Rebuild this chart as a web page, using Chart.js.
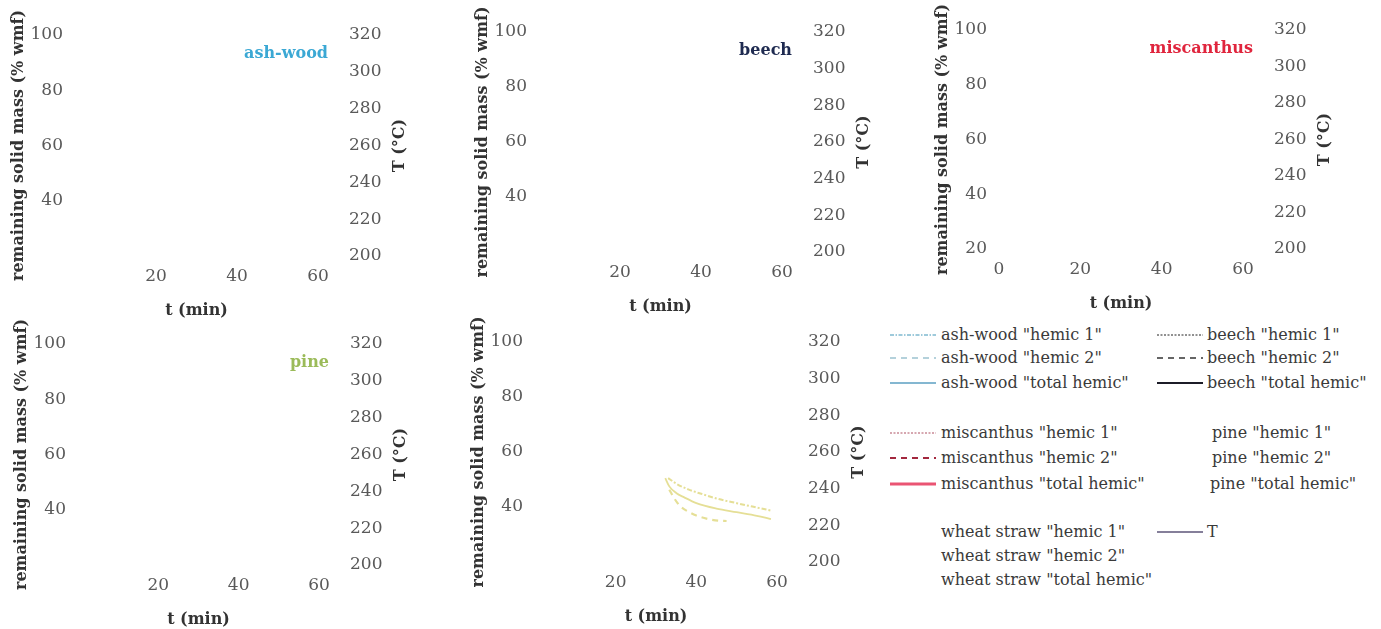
<!DOCTYPE html>
<html>
<head>
<meta charset="utf-8">
<script src="https://cdn.jsdelivr.net/npm/chart.js@4.4.0/dist/chart.umd.min.js"></script>
<style>
  html, body { margin: 0; padding: 0; background: #fff; overflow: hidden; }
  body { width: 1381px; height: 629px; position: relative; font-family: 'DejaVu Serif', serif; }
  .panel { position: absolute; }
  .legend-item { position: absolute; height: 20px; font-size: 16px; color: #3a3a3a; white-space: nowrap; line-height: 20px; }
  .legend-item svg { position: absolute; top: 0; }
  .legend-item span { position: absolute; top: 0; }
</style>
</head>
<body>

<script>
// axis ticks
const timeTicks = [0, 20, 40, 60];
const massTicks = [20, 40, 60, 80, 100];
const tempTicks = [200, 220, 240, 260, 280, 300, 320];

// panels (only the wheat straw curves are visible in the picture)
const panelNames = ['ash-wood', 'beech', 'miscanthus', 'pine', ''];
const panelColors = ['#3ba8d4', '#1e2a50', '#e0253d', '#9bbb59', '#e5df96'];

// wheat straw, remaining solid mass (% wmf) against t (min)
const wheatHemic1Time = [33, 35, 38, 41, 45, 50, 55, 58.5];
const wheatHemic1 = [50.5, 48.5, 46.4, 44.9, 43.1, 41.4, 39.8, 38.7];
const wheatTotalTime = [32.3, 33.3, 35, 37, 40, 45, 50, 55, 58.5];
const wheatTotal = [50.5, 47.5, 45.1, 43.5, 41.4, 39.4, 38.1, 36.8, 35.6];
const wheatHemic2Time = [33.3, 34.5, 36, 38, 40, 43, 45.5, 47.5];
const wheatHemic2 = [46.3, 43.2, 40.3, 38.3, 36.9, 35.6, 35.0, 34.9];

const legendLabels = [
  'ash-wood "hemic 1"', 'ash-wood "hemic 2"', 'ash-wood "total hemic"',
  'beech "hemic 1"', 'beech "hemic 2"', 'beech "total hemic"',
  'miscanthus "hemic 1"', 'miscanthus "hemic 2"', 'miscanthus "total hemic"',
  'pine "hemic 1"', 'pine "hemic 2"', 'pine "total hemic"',
  'wheat straw "hemic 1"', 'wheat straw "hemic 2"', 'wheat straw "total hemic"',
  'T'
];

// layout of the five panels: chart area edges in page pixels
const panelBoxes = [
  { left: 75, right: 318, top: 35, bottom: 256, low: false },
  { left: 539, right: 782, top: 32, bottom: 252, low: false },
  { left: 999, right: 1243, top: 30, bottom: 249, low: true },
  { left: 78, right: 319, top: 344, bottom: 565, low: false },
  { left: 535, right: 777, top: 342, bottom: 562, low: false }
];

const tickFont = { family: 'DejaVu Serif', size: 17 };
const titleFont = { family: 'DejaVu Serif', size: 16, weight: 'bold' };
const tickColor = '#595959';
const titleColor = '#333333';
const LEFT_W = 69, RIGHT_W = 94, BOTTOM_H = 66, TOP_PAD = 43;

// panel name in the top right corner and the right axis title (read upwards)
const panelText = {
  id: 'panelText',
  afterDraw(chart, args, opts) {
    const { ctx, chartArea } = chart;
    ctx.save();
    ctx.font = 'bold 16px "DejaVu Serif"';
    if (opts.text) {
      ctx.fillStyle = opts.color;
      ctx.textAlign = 'right';
      ctx.textBaseline = 'middle';
      ctx.fillText(opts.text, chartArea.right + 10, chartArea.top + 19);
    }
    ctx.translate(chartArea.right + 82, (chartArea.top + chartArea.bottom) / 2);
    ctx.rotate(-Math.PI / 2);
    ctx.fillStyle = titleColor;
    ctx.textAlign = 'center';
    ctx.textBaseline = 'middle';
    ctx.fillText('T (°C)', 0, 0);
    ctx.restore();
  }
};

function pairs(xs, ys) {
  return xs.map((x, i) => ({ x: x, y: ys[i] }));
}

function wheatDatasets() {
  const c = panelColors[4];
  const base = { borderColor: c, pointRadius: 0, fill: false, cubicInterpolationMode: 'monotone', yAxisID: 'y' };
  return [
    Object.assign({}, base, { label: legendLabels[12], data: pairs(wheatHemic1Time, wheatHemic1), borderWidth: 2, borderDash: [5, 2, 2, 2] }),
    Object.assign({}, base, { label: legendLabels[13], data: pairs(wheatHemic2Time, wheatHemic2), borderWidth: 2.2, borderDash: [6, 5] }),
    Object.assign({}, base, { label: legendLabels[14], data: pairs(wheatTotalTime, wheatTotal), borderWidth: 1.8 })
  ];
}

function makeOptions(i) {
  const p = panelBoxes[i];
  const common = {
    grid: { display: false, drawTicks: false },
    border: { display: false }
  };
  return {
    responsive: false,
    animation: false,
    layout: { padding: { top: TOP_PAD, left: 0, right: 0, bottom: 0 } },
    plugins: {
      legend: { display: false },
      tooltip: { enabled: false },
      panelText: { text: panelNames[i], color: panelColors[i] }
    },
    scales: {
      x: Object.assign({}, common, {
        type: 'linear', min: timeTicks[0], max: timeTicks[timeTicks.length - 1],
        afterBuildTicks: s => { s.ticks = timeTicks.map(v => ({ value: v })); },
        ticks: { padding: 10, font: tickFont, color: tickColor, maxRotation: 0,
          callback: v => (v === 0 && !p.low) ? '' : v },
        title: { display: true, text: 't (min)', font: titleFont, color: titleColor, padding: { top: 0, bottom: 2 } },
        afterFit: s => { s.height = BOTTOM_H; }
      }),
      y: Object.assign({}, common, {
        position: 'left', min: massTicks[0], max: massTicks[massTicks.length - 1],
        afterBuildTicks: s => { s.ticks = massTicks.map(v => ({ value: v })); },
        ticks: { padding: 12, font: tickFont, color: tickColor,
          callback: v => (v === 20 && !p.low) ? '' : v },
        title: { display: true, text: 'remaining solid mass (% wmf)', font: titleFont, color: titleColor, padding: { top: 3, bottom: 3 } },
        afterFit: s => { s.width = LEFT_W; }
      }),
      y2: Object.assign({}, common, {
        position: 'right', min: tempTicks[0], max: tempTicks[tempTicks.length - 1],
        afterBuildTicks: s => { s.ticks = tempTicks.map(v => ({ value: v })); },
        ticks: { padding: 31, font: tickFont, color: tickColor },
        title: { display: false },
        afterFit: s => { s.width = RIGHT_W; }
      })
    }
  };
}

panelBoxes.forEach((p, i) => {
  const w = LEFT_W + (p.right - p.left) + RIGHT_W;
  const h = TOP_PAD + (p.bottom - p.top) + BOTTOM_H;
  const div = document.createElement('div');
  div.className = 'panel';
  div.style.left = (p.left - LEFT_W) + 'px';
  div.style.top = (p.top - TOP_PAD) + 'px';
  const canvas = document.createElement('canvas');
  canvas.width = w;
  canvas.height = h;
  canvas.style.width = w + 'px';
  canvas.style.height = h + 'px';
  div.appendChild(canvas);
  document.body.appendChild(div);

  new Chart(canvas.getContext('2d'), {
    type: 'line',
    data: { datasets: i === 4 ? wheatDatasets() : [] },
    options: makeOptions(i),
    plugins: [panelText]
  });
});

// legend: two columns of line samples and labels
const legendRowsY = [335, 358, 383, 433, 458, 484, 532, 556, 580];
const legendEntries = [
  { label: 0, col: 0, row: 0, color: '#7fb9cf', width: 1.5, dash: '4 1.5 1.5 1.5' },
  { label: 1, col: 0, row: 1, color: '#9cc2cf', width: 1.5, dash: '6 5' },
  { label: 2, col: 0, row: 2, color: '#5b9fc2', width: 1.5, dash: '' },
  { label: 3, col: 1, row: 0, color: '#222222', width: 1, dash: '2 1.5' },
  { label: 4, col: 1, row: 1, color: '#333333', width: 1.3, dash: '6 5' },
  { label: 5, col: 1, row: 2, color: '#1c1c28', width: 2.2, dash: '' },
  { label: 6, col: 0, row: 3, color: '#c98a96', width: 1.3, dash: '2 1.5' },
  { label: 7, col: 0, row: 4, color: '#a3283e', width: 1.8, dash: '6 5' },
  { label: 8, col: 0, row: 5, color: '#ea5473', width: 3.2, dash: '' },
  { label: 9, col: 1, row: 3, color: null, indent: 5 },
  { label: 10, col: 1, row: 4, color: null, indent: 5 },
  { label: 11, col: 1, row: 5, color: null, indent: 3 },
  { label: 12, col: 0, row: 6, color: null },
  { label: 13, col: 0, row: 7, color: null },
  { label: 14, col: 0, row: 8, color: null },
  { label: 15, col: 1, row: 6, color: '#5c5478', width: 1.6, dash: '' }
];
const legendCols = [{ sample: 890, text: 941 }, { sample: 1157, text: 1207 }];

legendEntries.forEach(e => {
  const col = legendCols[e.col];
  const item = document.createElement('div');
  item.className = 'legend-item';
  item.style.left = col.sample + 'px';
  item.style.top = (legendRowsY[e.row] - 10) + 'px';
  let html = '';
  if (e.color) {
    html += '<svg width="46" height="20"><line x1="0" y1="10" x2="46" y2="10" stroke="' + e.color +
      '" stroke-width="' + e.width + '"' + (e.dash ? ' stroke-dasharray="' + e.dash + '"' : '') + '/></svg>';
  }
  const span = document.createElement('span');
  span.textContent = legendLabels[e.label];
  span.style.left = (col.text - col.sample + (e.indent || 0)) + 'px';
  item.innerHTML = html;
  item.appendChild(span);
  document.body.appendChild(item);
});
</script>
</body>
</html>
